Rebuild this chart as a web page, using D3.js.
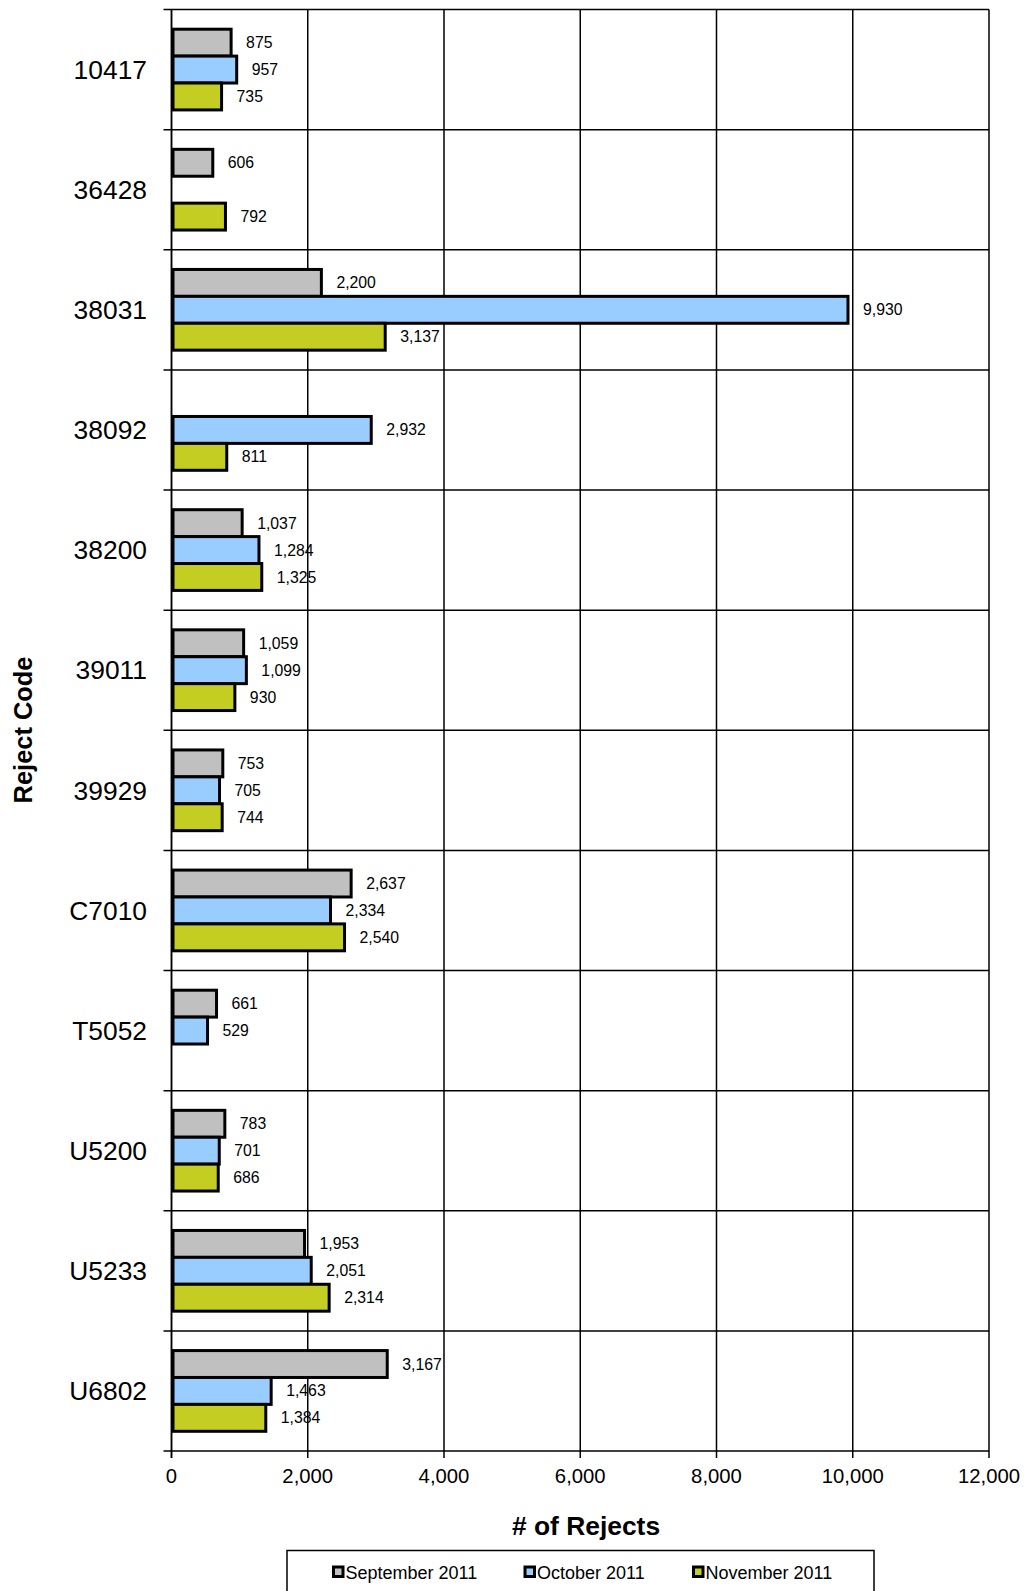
<!DOCTYPE html>
<html>
<head>
<meta charset="utf-8">
<script src="https://cdn.jsdelivr.net/npm/d3@7"></script>
<style>
  html, body { margin: 0; padding: 0; background: #fff; overflow: hidden; }
  svg { display: block; font-family: Arial, "Liberation Sans", sans-serif; }
</style>
</head>
<body>
<div id="chart"></div>
<script>
const codes = ["10417", "36428", "38031", "38092", "38200", "39011", "39929", "C7010", "T5052", "U5200", "U5233", "U6802"];
const september = [875, 606, 2200, null, 1037, 1059, 753, 2637, 661, 783, 1953, 3167];
const october = [957, null, 9930, 2932, 1284, 1099, 705, 2334, 529, 701, 2051, 1463];
const november = [735, 792, 3137, 811, 1325, 930, 744, 2540, null, 686, 2314, 1384];
const series_names = ["September 2011", "October 2011", "November 2011"];
const series_colors = ["#c0c0c0", "#99ccff", "#c4cd21"];
const x_ticks = [0, 2000, 4000, 6000, 8000, 10000, 12000];

const width = 1028;
const height = 1591;
const plot_left = 171.5, plot_right = 989, plot_top = 9.5, plot_bottom = 1451;

const svg = d3.select("#chart")
  .append("svg")
  .attr("width", width)
  .attr("height", height);

const x = d3.scaleLinear().domain([0, 12000]).range([plot_left, plot_right]);
const y = d3.scaleBand().domain(codes).range([plot_top, plot_bottom]);
const band = y.bandwidth();
const bar_h = band * 0.224;
const group_top = (band - bar_h * 3) / 2;

const all_series = [september, october, november];

// vertical grid lines
svg.append("g")
  .selectAll("line")
  .data(x_ticks)
  .enter()
  .append("line")
  .attr("x1", (d) => x(d)).attr("x2", (d) => x(d))
  .attr("y1", plot_top).attr("y2", plot_bottom + 7)
  .attr("stroke", "#000").attr("stroke-width", 1.5);

// horizontal grid lines at category boundaries
const bounds = codes.map((c) => y(c)).concat([plot_bottom]);
svg.append("g")
  .selectAll("line")
  .data(bounds)
  .enter()
  .append("line")
  .attr("x1", plot_left - 8).attr("x2", plot_right)
  .attr("y1", (d) => d).attr("y2", (d) => d)
  .attr("stroke", "#000").attr("stroke-width", 1.5);

// bars
all_series.forEach((values, s) => {
  const data = codes.map((c, i) => ({ code: c, v: values[i] })).filter((d) => d.v !== null);
  const g = svg.append("g");
  g.selectAll("rect")
    .data(data)
    .enter()
    .append("rect")
    .attr("x", x(0) + 1.5)
    .attr("y", (d) => y(d.code) + group_top + s * bar_h)
    .attr("width", (d) => x(d.v) - x(0) - 1.5)
    .attr("height", bar_h)
    .attr("fill", series_colors[s])
    .attr("stroke", "#000")
    .attr("stroke-width", 3);
  g.selectAll("text")
    .data(data)
    .enter()
    .append("text")
    .attr("x", (d) => x(d.v) + 15)
    .attr("y", (d) => y(d.code) + group_top + s * bar_h + bar_h / 2)
    .attr("dy", "0.35em")
    .attr("font-size", 15.8)
    .text((d) => d3.format(",")(d.v));
});

// left axis line
svg.append("line")
  .attr("x1", plot_left).attr("x2", plot_left)
  .attr("y1", plot_top).attr("y2", plot_bottom + 7)
  .attr("stroke", "#000").attr("stroke-width", 1.5);

// category labels
svg.append("g")
  .selectAll("text")
  .data(codes)
  .enter()
  .append("text")
  .attr("x", 147)
  .attr("y", (d) => y(d) + band / 2)
  .attr("dy", "0.35em")
  .attr("text-anchor", "end")
  .attr("font-size", 26.4)
  .text((d) => d);

// x tick labels
svg.append("g")
  .selectAll("text")
  .data(x_ticks)
  .enter()
  .append("text")
  .attr("x", (d) => x(d))
  .attr("y", 1483)
  .attr("text-anchor", "middle")
  .attr("font-size", 20.3)
  .text((d) => d3.format(",")(d));

// axis titles
svg.append("text")
  .attr("x", 586).attr("y", 1535)
  .attr("text-anchor", "middle")
  .attr("font-size", 26.4).attr("font-weight", "bold")
  .text("# of Rejects");

svg.append("text")
  .attr("transform", "translate(31.5,730) rotate(-90)")
  .attr("text-anchor", "middle")
  .attr("font-size", 25.4).attr("font-weight", "bold")
  .text("Reject Code");

// legend
svg.append("rect")
  .attr("x", 287).attr("y", 1550.5)
  .attr("width", 587).attr("height", 80)
  .attr("fill", "none").attr("stroke", "#000").attr("stroke-width", 1.5);

const legend_x = [332, 523.5, 692];
const legend = svg.append("g")
  .selectAll("g")
  .data(series_names)
  .enter()
  .append("g")
  .attr("transform", (d, i) => `translate(${legend_x[i]},1572.5)`);
legend.append("rect")
  .attr("x", 1.5).attr("y", -5.5)
  .attr("width", 9.5).attr("height", 9.5)
  .attr("fill", (d, i) => series_colors[i])
  .attr("stroke", "#000").attr("stroke-width", 3);
legend.append("text")
  .attr("x", 13.5).attr("y", 0)
  .attr("dy", "0.35em")
  .attr("font-size", 18)
  .text((d) => d);
</script>
</body>
</html>
